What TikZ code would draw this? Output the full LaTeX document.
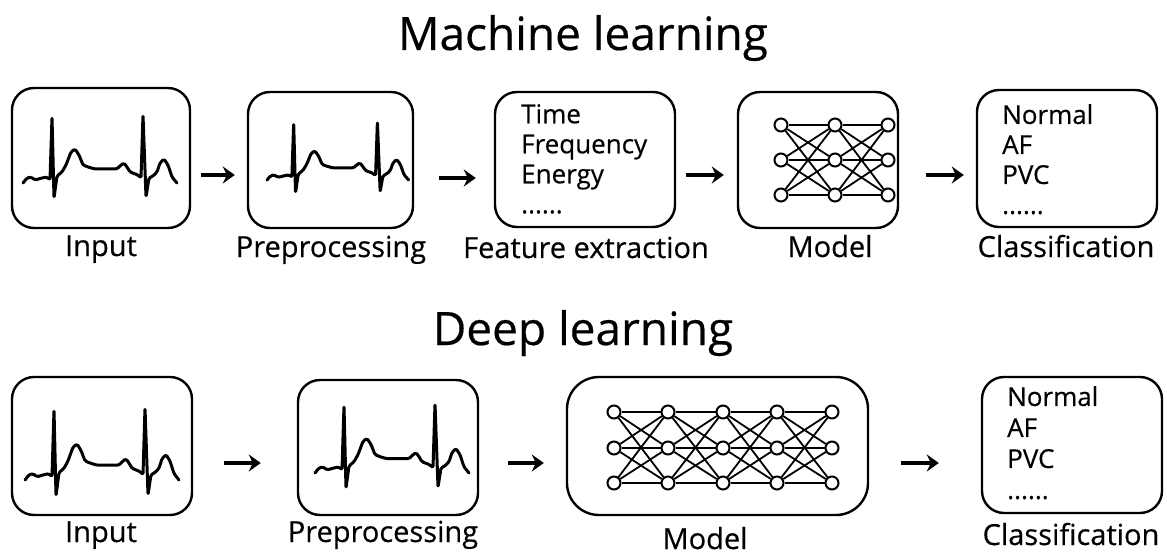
\documentclass[tikz,border=0pt]{standalone}
\usepackage{fontspec}
\setmainfont{Open Sans}[FakeBold=0.4]
\usetikzlibrary{arrows.meta}

\tikzset{
  box/.style={draw, line width=2.4pt, rounded corners=22pt, inner sep=0pt},
  lbl/.style={anchor=base, font=\fontsize{29}{34}\selectfont},
  ttl/.style={anchor=base, font=\fontsize{46}{52}\selectfont},
  lst/.style={anchor=north west, align=left, inner sep=0pt, font=\fontsize{26}{30}\selectfont},
  arr/.style={line width=3.8pt, -{Stealth[length=12pt,width=17pt,inset=4pt]}},
  neuron/.style={circle, draw, fill=white, line width=2pt, minimum size=13pt, inner sep=0pt},
  syn/.style={line width=1.8pt},
  ecgline/.style={line width=3pt, line join=round, line cap=round, rounded corners=1.5pt},
  ecg/.pic={
    \draw[ecgline] (0,0) -- (4,-5) -- (8,-6) -- (12,-3) -- (19,-5) -- (24,-6) -- (27,-3)
      -- (29,-66) -- (31,15) -- (34,-7) -- (39,-11) -- (43,-18) -- (48,-31) -- (52,-34)
      -- (56,-28) -- (60,-18) -- (65,-16) -- (72,-14) -- (94,-14) -- (98,-18) -- (101,-20)
      -- (104,-16) -- (107,-11) -- (115,-8) -- (118,-5) -- (120,-68) -- (123,14) -- (126,-5)
      -- (130,-7) -- (134,-11) -- (137,-20) -- (141,-24) -- (145,-18) -- (149,-6) -- (154,0);
  }
}

\begin{document}
\begin{tikzpicture}[x=1pt,y=-1pt]
\useasboundingbox (0,0) rectangle (1167,556);

% Machine learning
\node[ttl] (ml) at (583,50) {Machine learning};

\node[box, minimum width=178pt, minimum height=140pt] (in1) at (101,158) {};
\node[box, minimum width=165pt, minimum height=136pt] (pre1) at (330.5,160) {};
\node[box, minimum width=180pt, minimum height=135pt] (feat1) at (585,159.5) {};
\node[box, minimum width=160pt, minimum height=136pt] (model1) at (818,160) {};
\node[box, minimum width=180pt, minimum height=137pt] (cls1) at (1067,158.5) {};

\pic at (23,183) {ecg};
\pic[xscale=.92, yscale=.86] at (267,180) {ecg};

\node[lst] (featlist1) at (521,104) {Time\\Frequency\\Energy\\......};
\node[lst] (clslist1) at (1002,104) {Normal\\AF\\PVC\\......};

% 3 layers
\foreach \c/\x in {1/781,2/835,3/888}
  \foreach \r/\y in {1/125,2/160,3/195}
    \node[neuron] (n1-\c-\r) at (\x,\y) {};
\foreach \c [evaluate=\c as \nc using int(\c+1)] in {1,2}
  \foreach \r in {1,2,3}
    \foreach \s in {1,2,3}
      \draw[syn] (n1-\c-\r) -- (n1-\nc-\s);

\node[lbl] (lin1) at (101,256) {Input};
\node[lbl] (lpre1) at (331,257) {Preprocessing};
\node[lbl] (lfeat1) at (586,258) {Feature extraction};
\node[lbl] (lmodel1) at (830,257) {Model};
\node[lbl] (lcls1) at (1066,257) {Classification};

\draw[arr, shorten <=10pt, shorten >=12pt] (in1.east |- 0,175) -- (pre1.west |- 0,175);
\draw[arr, shorten <=25pt, shorten >=18pt] (pre1.east |- 0,178) -- (feat1.west |- 0,178);
\draw[arr, shorten <=10pt, shorten >=13pt] (feat1.east |- 0,175) -- (model1.west |- 0,175);
\draw[arr, shorten <=27pt, shorten >=12pt] (model1.east |- 0,175) -- (cls1.west |- 0,175);

% Deep learning
\node[ttl] (dl) at (583,345) {Deep learning};

\node[box, minimum width=180pt, minimum height=138pt] (in2) at (102,446) {};
\node[box, minimum width=180pt, minimum height=135pt] (pre2) at (388,447.5) {};
\node[box, rounded corners=32pt, minimum width=301pt, minimum height=138pt] (model2) at (717.5,446) {};
\node[box, minimum width=180pt, minimum height=136pt] (cls2) at (1072,445) {};

\pic[yscale=1.06] at (25,480) {ecg};
\pic[yscale=1.02] at (315,473) {ecg};

\node[lst, font=\fontsize{26}{31}\selectfont] (clslist2) at (1007,386) {Normal\\AF\\PVC\\......};

% 5 layers
\foreach \c/\x in {1/614,2/668,3/723,4/777,5/832}
  \foreach \r/\y in {1/412,2/448,3/483}
    \node[neuron] (n2-\c-\r) at (\x,\y) {};
\foreach \c [evaluate=\c as \nc using int(\c+1)] in {1,...,4}
  \foreach \r in {1,2,3}
    \foreach \s in {1,2,3}
      \draw[syn] (n2-\c-\r) -- (n2-\nc-\s);

\node[lbl] (lin2) at (101,542) {Input};
\node[lbl] (lpre2) at (383,542) {Preprocessing};
\node[lbl] (lmodel2) at (705,549) {Model};
\node[lbl] (lcls2) at (1071,545) {Classification};

\draw[arr, shorten <=31pt, shorten >=36pt] (in2.east |- 0,463) -- (pre2.west |- 0,463);
\draw[arr, shorten <=29pt, shorten >=22pt] (pre2.east |- 0,463) -- (model2.west |- 0,463);
\draw[arr, shorten <=32pt, shorten >=42pt] (model2.east |- 0,463) -- (cls2.west |- 0,463);

\end{tikzpicture}
\end{document}
